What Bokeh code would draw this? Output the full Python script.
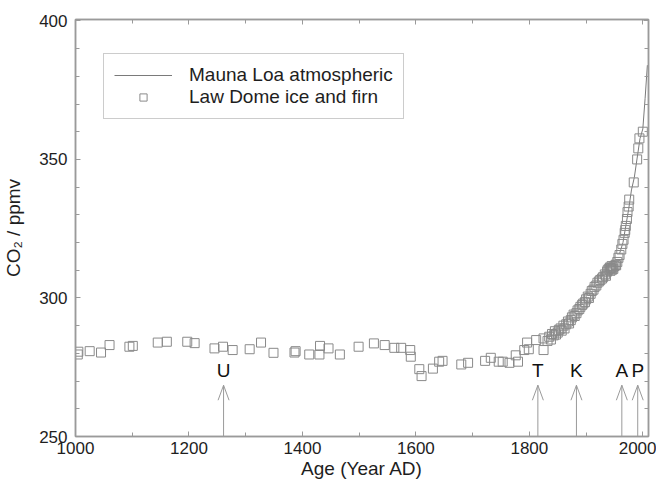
from bokeh.plotting import figure
from bokeh.models import (Range1d, SingleIntervalTicker, LinearAxis, Legend,
                          LegendItem, ColumnDataSource)
from bokeh.core.properties import value
from bokeh.embed import file_html
from bokeh.resources import INLINE

# ---------------- data ----------------
law_year = [1004, 1005, 1025, 1045, 1060, 1095, 1101, 1145, 1161, 1197, 1210,
            1245, 1260, 1277, 1307, 1327, 1349, 1386, 1388, 1412, 1430, 1431,
            1446, 1466, 1499, 1526, 1545, 1562, 1574, 1590, 1591, 1606, 1610,
            1630, 1641, 1647, 1680, 1692, 1722, 1732, 1746, 1753, 1765, 1776,
            1780, 1791, 1796, 1799, 1812, 1825, 1825,
            1832, 1835, 1838, 1840, 1843, 1845, 1847, 1850, 1852, 1855, 1857,
            1860, 1862, 1865, 1868, 1870, 1873, 1875, 1878, 1880, 1883, 1885,
            1888, 1890, 1893, 1895, 1898, 1900, 1903, 1905, 1908, 1910, 1913,
            1915, 1918, 1920, 1923, 1925, 1928, 1930, 1933, 1935, 1937, 1938,
            1940, 1942, 1943, 1944, 1945, 1946, 1947, 1948, 1950, 1952, 1953,
            1955, 1957, 1959, 1962, 1964, 1966, 1968, 1969, 1970, 1972, 1973,
            1975, 1976, 1984, 1990, 1992, 1994, 2000]
law_co2 = [279.6, 280.6, 280.8, 280.3, 283.0, 282.4, 282.7, 283.9, 284.2, 284.2, 283.7,
           281.8, 282.4, 281.2, 281.5, 283.9, 280.2, 280.3, 280.8, 279.6, 279.6, 282.7,
           281.8, 279.6, 282.4, 283.6, 283.0, 282.0, 282.0, 281.2, 278.8, 274.3, 271.8,
           274.5, 277.0, 277.3, 276.0, 276.6, 277.3, 278.4, 277.0, 277.0, 276.6, 279.3,
           277.0, 281.2, 283.9, 281.5, 284.8, 281.2, 285.4,
           284.5, 286.0, 285.0, 287.0, 286.5, 288.0, 286.8, 287.5, 288.5, 289.0, 288.2,
           290.0, 289.0, 290.5, 291.5, 290.8, 292.0, 293.0, 294.0, 293.5, 294.5, 295.5,
           296.0, 296.8, 297.5, 298.0, 298.5, 299.5, 300.5, 300.0, 301.5, 302.5, 303.0,
           304.0, 304.5, 305.5, 306.0, 306.5, 307.0, 307.5, 308.5, 308.0, 309.5, 310.0,
           310.5, 311.0, 309.8, 310.8, 311.5, 310.2, 311.0, 310.5, 311.5, 312.0, 311.8,
           313.0, 314.5, 315.5, 317.5, 319.5, 321.0, 323.5, 324.5, 326.0, 328.5, 331.0,
           333.0, 335.5, 341.7, 350.0, 354.0, 357.6, 360.0]

mlo_year = [1959, 1965, 1970, 1975, 1980, 1985, 1990, 1995, 2000, 2004, 2008]
mlo_co2 = [316.0, 320.0, 326.0, 332.0, 339.0, 343.5, 350.5, 357.5, 361.0, 372.0, 384.0]

event_labels = ["U", "T", "K", "A", "P"]
event_years = [1261, 1815, 1883, 1963, 1991]

# ---------------- layout / style ----------------
X0, X1 = 1000, 2010
Y0, Y1 = 250, 400.5
FW, FH = 573, 417
FONT = "Liberation Sans"
GRAY = "#9a9a9a"
TXT = "#1e1e1e"

p = figure(width=654, height=479, output_backend="svg", toolbar_location=None,
           x_range=Range1d(X0, X1), y_range=Range1d(Y0, Y1),
           min_border_left=73, min_border_right=8, min_border_top=19,
           min_border_bottom=43, x_axis_location=None, y_axis_location=None)
p.frame_width = FW
p.frame_height = FH
p.grid.visible = False
p.outline_line_color = GRAY
p.outline_line_width = 1.5
p.background_fill_color = "white"
p.border_fill_color = "white"


def make_axis(interval, minors, show_labels):
    ax = LinearAxis(ticker=SingleIntervalTicker(interval=interval,
                                                num_minor_ticks=minors))
    ax.axis_line_color = GRAY
    ax.axis_line_width = 1.5
    ax.major_tick_line_color = GRAY
    ax.minor_tick_line_color = GRAY
    ax.major_tick_in = 5
    ax.major_tick_out = 0
    ax.minor_tick_in = 4
    ax.minor_tick_out = 0
    ax.major_label_text_font = FONT
    ax.major_label_text_font_size = "17px"
    ax.major_label_text_color = TXT
    ax.axis_label_text_font = FONT
    ax.axis_label_text_font_size = "19px"
    ax.axis_label_text_font_style = "normal"
    ax.axis_label_text_color = TXT
    if not show_labels:
        ax.major_label_text_font_size = "0px"
        ax.major_label_text_alpha = 0
    return ax


xb = make_axis(200, 2, True)
xb.axis_label = "Age (Year AD)"
xb.major_label_standoff = 5
xb.axis_label_standoff = 1
p.add_layout(xb, "below")

xt = make_axis(200, 2, False)
p.add_layout(xt, "above")

yl = make_axis(50, 5, True)
yl.axis_label = "CO₂ / ppmv"
yl.major_label_standoff = 8
yl.axis_label_standoff = 12
p.add_layout(yl, "left")

yr = make_axis(50, 5, False)
p.add_layout(yr, "right")

# Mauna Loa line
ml = p.line(mlo_year, mlo_co2, line_color="#7a7a7a", line_width=1)
# Law Dome squares
ld = p.scatter(law_year, law_co2, marker="square", size=9, fill_color=None,
               line_color="#8a8a8a", line_width=1)

# Event arrows (from the axis to the tip, with open V heads)
px_x = (X1 - X0) / FW
px_y = (Y1 - Y0) / FH
tip = 268.5
head_dx = 5.5 * px_x
head_dy = 15 * px_y
n = len(event_years)
p.segment(x0=event_years, y0=[Y0] * n, x1=event_years, y1=[tip] * n,
          line_color=GRAY, line_width=1)
p.segment(x0=[x - head_dx for x in event_years], y0=[tip - head_dy] * n,
          x1=event_years, y1=[tip] * n, line_color=GRAY, line_width=1)
p.segment(x0=[x + head_dx for x in event_years], y0=[tip - head_dy] * n,
          x1=event_years, y1=[tip] * n, line_color=GRAY, line_width=1)
src_ev = ColumnDataSource(dict(x=event_years, y=[tip + 15 * px_y] * n,
                               t=event_labels))
p.text(x="x", y="y", text="t", source=src_ev, text_align="center",
       text_baseline="middle", text_font=value(FONT), text_font_size="19px",
       text_color="#111111")

legend = Legend(items=[LegendItem(label="Mauna Loa atmospheric", renderers=[ml]),
                       LegendItem(label="Law Dome ice and firn", renderers=[ld])],
                location=(28, 317))
legend.label_text_font = FONT
legend.label_text_font_size = "19px"
legend.label_text_color = TXT
legend.glyph_width = 58
legend.glyph_height = 18
legend.label_height = 18
legend.label_standoff = 17
legend.spacing = 0
legend.padding = 10
legend.margin = 0
legend.border_line_color = GRAY
legend.border_line_width = 1.5
legend.background_fill_alpha = 1
p.add_layout(legend, "center")

open("out.html", "w").write(file_html(p, INLINE))
